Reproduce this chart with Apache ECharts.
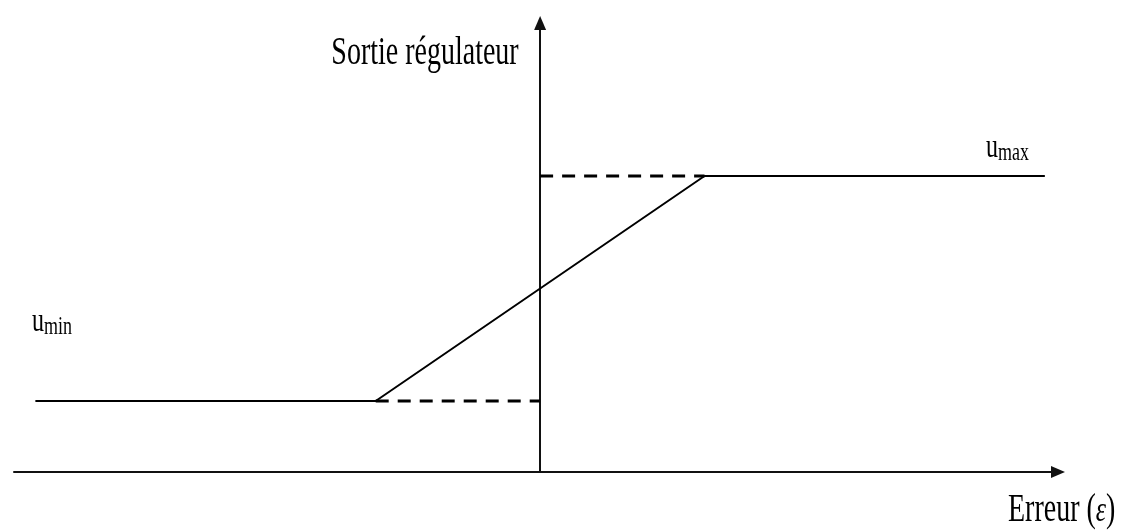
<!DOCTYPE html>
<html>
<head>
<meta charset="utf-8">
<script src="https://cdn.jsdelivr.net/npm/echarts@6/dist/echarts.min.js"></script>
<style>
  html, body { margin: 0; padding: 0; background: #fff; }
  #chart { width: 1126px; height: 532px; }
</style>
</head>
<body>
<div id="chart"></div>
<script>
// saturation curve of the controller output (erreur -> sortie)
const satX = [-3.07, -1.0, 1.0, 3.07];
const satY = [0.71, 0.71, 2.96, 2.96];
// dashed guides from the bends back to the vertical axis
const dashLowX = [-1.0, 0];
const dashLowY = [0.71, 0.71];
const dashHighX = [0, 1.0];
const dashHighY = [2.96, 2.96];
// axis extents
const xRange = [-3.2, 3.15];
const yRange = [0, 4.49];

const pair = (xs, ys) => xs.map((x, i) => [x, ys[i]]);

const myChart = echarts.init(document.getElementById('chart'));

const serif = '"Liberation Serif", "DejaVu Serif", serif';

let axisCommon = {
  type: 'value',
  axisLine: {
    show: true,
    onZero: true,
    symbol: ['none', 'triangle'],
    symbolSize: [12, 14],
    lineStyle: { color: '#111', width: 2 }
  },
  axisTick: { show: false },
  axisLabel: { show: false },
  splitLine: { show: false }
};

let option = {
  animation: false,
  backgroundColor: '#fff',
  grid: { left: 14, right: 68, top: 23, bottom: 60 },
  xAxis: Object.assign({}, axisCommon, { min: xRange[0], max: xRange[1] }),
  yAxis: Object.assign({}, axisCommon, { min: yRange[0], max: yRange[1] }),
  graphic: [
    {
      type: 'text', x: 425, y: 54, scaleY: 1.4,
      style: { text: 'Sortie régulateur', font: '28px ' + serif, fill: '#000', align: 'center', verticalAlign: 'middle' }
    },
    {
      type: 'text', x: 32, y: 322, scaleY: 1.4,
      style: {
        text: '{u|u}{s|min}', fill: '#000', align: 'left', verticalAlign: 'middle',
        rich: {
          u: { fontSize: 24, fontFamily: serif, fill: '#000' },
          s: { fontSize: 18, fontFamily: serif, fill: '#000', padding: [8, 0, 0, 0] }
        }
      }
    },
    {
      type: 'text', x: 986, y: 148, scaleY: 1.4,
      style: {
        text: '{u|u}{s|max}', fill: '#000', align: 'left', verticalAlign: 'middle',
        rich: {
          u: { fontSize: 24, fontFamily: serif, fill: '#000' },
          s: { fontSize: 18, fontFamily: serif, fill: '#000', padding: [8, 0, 0, 0] }
        }
      }
    },
    {
      type: 'text', x: 1008, y: 511, scaleY: 1.4,
      style: {
        text: '{a|Erreur (}{e|ε}{a|)}', fill: '#000', align: 'left', verticalAlign: 'middle',
        rich: {
          a: { fontSize: 28, fontFamily: serif, fill: '#000' },
          e: { fontSize: 26, fontFamily: serif, fontStyle: 'italic', fill: '#000' }
        }
      }
    }
  ],
  series: [
    {
      name: 'saturation',
      type: 'line',
      data: pair(satX, satY),
      symbol: 'none',
      lineStyle: { color: '#000', width: 2 }
    },
    {
      name: 'umin guide',
      type: 'line',
      data: pair(dashLowX, dashLowY),
      symbol: 'none',
      lineStyle: { color: '#000', width: 3, type: [13, 9] }
    },
    {
      name: 'umax guide',
      type: 'line',
      data: pair(dashHighX, dashHighY),
      symbol: 'none',
      lineStyle: { color: '#000', width: 3, type: [13, 9] }
    }
  ]
};

myChart.setOption(option);
</script>
</body>
</html>
